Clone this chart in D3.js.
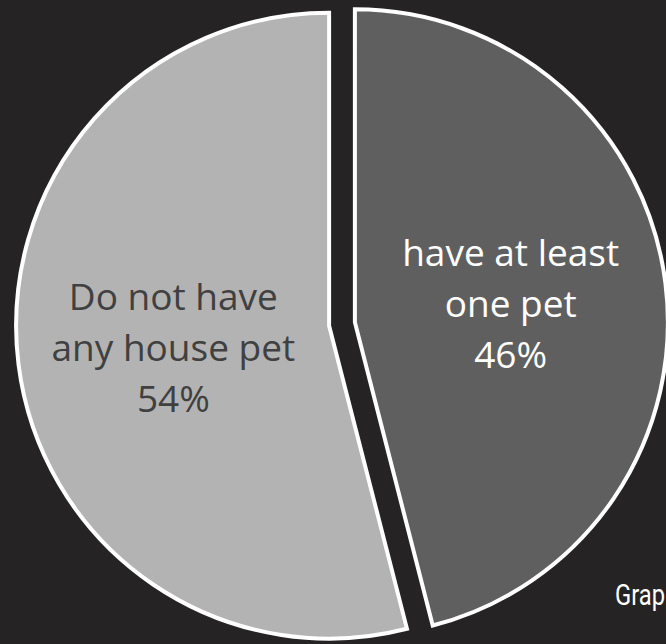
<!DOCTYPE html>
<html>
<head>
<meta charset="utf-8">
<script src="https://cdn.jsdelivr.net/npm/d3@7"></script>
<style>
  html, body { margin: 0; padding: 0; background: #262324; overflow: hidden; }
</style>
</head>
<body>
<div id="chart"></div>
<script>
var categories = ["have at least one pet", "Do not have any house pet"];
var labelLines = [["have at least", "one pet"], ["Do not have", "any house pet"]];
var values = [46, 54];
var fills = ["#5f5f5f", "#b3b3b3"];
var textColors = ["#ffffff", "#404040"];
var sourceNote = "Grap";

function renderPie() {
    var width = 666, height = 644;
    var cx = 342, cy = 324;
    var radius = 313, explode = 13, labelRadius = 157;

    var data = categories.map(function(c, i) {
        return {name: c, lines: labelLines[i], value: values[i], fill: fills[i], text: textColors[i]};
    });

    var pie = d3.pie()
        .sort(null)
        .value(function(d) { return d.value; });

    var arc = d3.arc().innerRadius(0).outerRadius(radius);
    var labelArc = d3.arc().innerRadius(labelRadius).outerRadius(labelRadius);

    function offset(d) {
        var a = (d.startAngle + d.endAngle) / 2;
        return [explode * Math.sin(a), -explode * Math.cos(a)];
    }

    var svg = d3.select("#chart").append("svg")
        .attr("width", width)
        .attr("height", height);

    svg.append("rect")
        .attr("width", width)
        .attr("height", height)
        .attr("fill", "#262324");

    var g = svg.append("g")
        .attr("transform", "translate(" + cx + "," + cy + ")");

    var slices = g.selectAll(".slice")
        .data(pie(data))
        .enter().append("g")
        .attr("class", "slice")
        .attr("transform", function(d) { return "translate(" + offset(d) + ")"; });

    slices.append("path")
        .attr("d", arc)
        .attr("fill", function(d) { return d.data.fill; })
        .attr("stroke", "#ffffff")
        .attr("stroke-width", 4)
        .attr("stroke-linejoin", "miter");

    var labels = slices.append("text")
        .attr("text-anchor", "middle")
        .attr("transform", function(d) { return "translate(" + labelArc.centroid(d) + ")"; })
        .style("font-family", "'Open Sans', Lato, sans-serif")
        .style("font-size", "37px")
        .attr("fill", function(d) { return d.data.text; });

    labels.each(function(d, j) {
        var t = d3.select(this);
        var lines = d.data.lines.concat([d.data.value + "%"]);
        lines.forEach(function(l, i) {
            t.append("tspan")
                .attr("x", 0)
                .attr("y", (i - 1) * 51 + (j === 0 ? 14 : 16))
                .text(l);
        });
    });

    svg.append("text")
        .attr("transform", "translate(665,605) scale(0.82,1)")
        .attr("text-anchor", "end")
        .style("font-family", "Roboto, 'Liberation Sans', sans-serif")
        .style("font-size", "29px")
        .attr("fill", "#ffffff")
        .text(sourceNote);
}

renderPie();
</script>
</body>
</html>
